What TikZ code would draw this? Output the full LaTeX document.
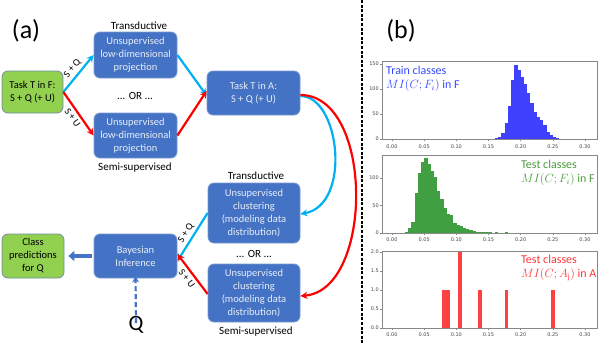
\documentclass[tikz,border=0pt]{standalone}
\usepackage{fontspec}
\setmainfont{Carlito}
\newfontfamily\dejavu{DejaVu Sans}
\usetikzlibrary{arrows.meta}
\definecolor{boxblue}{HTML}{4472C4}
\definecolor{boxedge}{HTML}{7A98D2}
\definecolor{boxgreen}{HTML}{92D050}
\definecolor{greenedge}{HTML}{6F8CA8}
\definecolor{boxtext}{HTML}{E8EEF8}
\definecolor{arrcyan}{HTML}{00B0F0}
\definecolor{arrred}{HTML}{FF0000}
\definecolor{histblue}{HTML}{4040FF}
\definecolor{histgreen}{HTML}{409F40}
\definecolor{histred}{HTML}{FF4040}
\definecolor{txtblue}{HTML}{3348FF}
\definecolor{txtgreen}{HTML}{4B9B3B}
\definecolor{txtred}{HTML}{FF3535}
\definecolor{axgray}{HTML}{888888}
\definecolor{ticktext}{HTML}{444444}
\tikzset{
  bbox/.style={rectangle, rounded corners=6pt, fill=boxblue, draw=boxedge, line width=0.8pt,
    text=boxtext, align=center, font=\fontsize{10.5}{13}\selectfont, inner sep=0pt},
  gbox/.style={rectangle, rounded corners=6pt, fill=boxgreen, draw=greenedge, line width=0.8pt,
    text=black, align=center, font=\fontsize{10.5}{13}\selectfont, inner sep=0pt},
  lbl/.style={font=\fontsize{11}{13}\selectfont, text=black, inner sep=0pt},
  alb/.style={font=\fontsize{10}{12}\selectfont, text=black, sloped, inner sep=2.8pt},
  cyarr/.style={draw=arrcyan, line width=2.2pt, -{Stealth[length=7pt,width=7pt]}},
  rdarr/.style={draw=arrred, line width=2.2pt, -{Stealth[length=7pt,width=7pt]}},
  axframe/.style={draw=axgray, line width=0.6pt},
  tick/.style={font=\dejavu\fontsize{5}{6}\selectfont, text=ticktext, inner sep=0pt},
  ptxt/.style={font=\fontsize{12}{14}\selectfont, align=left, inner sep=0pt, anchor=north west},
}
\begin{document}
\begin{tikzpicture}[x=1pt,y=-1pt]
\useasboundingbox (0,0) rectangle (600,343);
% panel labels
\node[font=\fontsize{26}{30}\selectfont, inner sep=0pt] (la) at (26,31) {(a)};
\node[font=\fontsize{26}{30}\selectfont, inner sep=0pt] (lb) at (401,31) {(b)};
% boxes
\node[gbox, minimum width=61pt, minimum height=42pt] (tf) at (32.5,92) {Task T in F:\\S + Q (+ U)};
\node[bbox, minimum width=83pt, minimum height=46pt] (p1) at (135.5,55) {Unsupervised\\low-dimensional\\projection};
\node[bbox, minimum width=83pt, minimum height=45pt] (p2) at (135.5,135.5) {Unsupervised\\low-dimensional\\projection};
\node[lbl] (t1) at (139,26) {Transductive};
\node[lbl] (o1) at (135,96) {... OR ...};
\node[lbl] (s1) at (135,168) {Semi-supervised};
\node[bbox, minimum width=93pt, minimum height=44pt] (ta) at (253.5,93) {Task T in A:\\S + Q (+ U)};
\node[bbox, minimum width=92pt, minimum height=60pt] (c1) at (254,213) {Unsupervised\\clustering\\(modeling data\\distribution)};
\node[bbox, minimum width=92pt, minimum height=58pt] (c2) at (254,293) {Unsupervised\\clustering\\(modeling data\\distribution)};
\node[lbl] (t2) at (256,176) {Transductive};
\node[lbl] (o2) at (254,254) {... OR ...};
\node[lbl] (s2) at (256,332) {Semi-supervised};
\node[bbox, minimum width=83pt, minimum height=44pt] (bi) at (135.5,256) {Bayesian\\Inference};
\node[gbox, minimum width=62pt, minimum height=44pt] (cp) at (33,256) {Class\\predictions\\for Q};
\node[font=\fontsize{22}{24}\selectfont, inner sep=0pt] (q) at (136,325) {Q};
% arrows left part
\draw[cyarr] (tf.east) -- node[alb, above] {S + Q} (p1.west);
\draw[rdarr] (tf.east) -- node[alb, below] {S + U} (p2.west);
\draw[cyarr] (p1.east) -- ([yshift=-2.5pt]ta.west);
\draw[rdarr] (p2.east) -- ([yshift=2pt]ta.west);
\draw[cyarr] ([yshift=-3pt]ta.east) .. controls (340,96) and (352,205) .. ([yshift=-1pt]c1.east);
\draw[rdarr] ([yshift=-2pt]ta.east) .. controls (374,95) and (374,290) .. ([yshift=-3pt]c2.east);
\draw[cyarr] (c1.west) -- node[alb, above] {S + Q} ([yshift=-5pt]bi.east);
\draw[rdarr] ([yshift=-1pt]c2.west) -- node[alb, below] {S + U} ([yshift=2pt]bi.east);
\draw[draw=boxblue, line width=4.5pt, -{Triangle[length=6pt,width=10pt]}] ([xshift=-2pt]bi.west) -- ([xshift=4pt]cp.east);
\draw[draw=boxblue, line width=2.2pt, dash pattern=on 5pt off 3pt, -{Stealth[length=6pt,width=7pt]}] ([yshift=-7pt]q.north) -- ([yshift=2pt]bi.south);
% separator
\coordinate (sepT) at (362,0);
\coordinate (sepB) at (362,343);
\draw[black, line width=1.3pt, dash pattern=on 3pt off 1.6pt] (sepT) -- (sepB);
% ---------- histogram 1 ----------
\foreach \h [count=\i from 0] in {2,5,12,32,66,118,148,138,125,111,92,72,55,45,38,28,15,9,4,2,1,0,1,1,0,1}
  { \fill[histblue] ({392+(0.16+\i*0.005)*643.3},139) rectangle ++(3.35,{-\h*0.5}); }
\draw[axframe] (382,61) rectangle (597,139);
\foreach \v/\t in {0/0,50/50,100/100,150/150}
  { \draw[axgray, line width=0.5pt] (382,{139-\v*0.5}) -- ++(-2,0);
    \node[tick, anchor=east] at (379,{139-\v*0.5}) {\t}; }
\foreach \v/\t in {0/0.00,0.05/0.05,0.1/0.10,0.15/0.15,0.2/0.20,0.25/0.25,0.3/0.30}
  { \draw[axgray, line width=0.5pt] ({392+\v*643.3},139) -- ++(0,2);
    \node[tick] at ({392+\v*643.3},147) {\t}; }
\node[ptxt, text=txtblue] (h1t) at (386,66) {Train classes\\$MI(C;F_i)$ in F};
% ---------- histogram 2 ----------
\foreach \h [count=\i from 0] in {1,9,20,73,109,129,136,125,112,102,76,61,45,35,33,18,15,12,9,8,5,4,2,2,2,1,1,0,1,0,0,2}
  { \fill[histgreen] ({392+(0.02+\i*0.005)*643.3},233) rectangle ++(3.35,{-\h*0.55}); }
\draw[axframe] (382,155) rectangle (597,233);
\foreach \v/\t in {0/0,50/50,100/100}
  { \draw[axgray, line width=0.5pt] (382,{233-\v*0.55}) -- ++(-2,0);
    \node[tick, anchor=east] at (379,{233-\v*0.55}) {\t}; }
\foreach \v/\t in {0/0.00,0.05/0.05,0.1/0.10,0.15/0.15,0.2/0.20,0.25/0.25,0.3/0.30}
  { \draw[axgray, line width=0.5pt] ({392+\v*643.3},233) -- ++(0,2);
    \node[tick] at ({392+\v*643.3},240) {\t}; }
\node[ptxt, text=txtgreen] (h2t) at (521,160) {Test classes\\$MI(C;F_i)$ in F};
% ---------- histogram 3 ----------
\foreach \a/\b/\h in {0.0776/0.0905/1,0.1024/0.1086/2,0.1330/0.1397/1,0.1750/0.1810/1,0.2470/0.2535/1}
  { \fill[histred] ({392+\a*643.3},328) rectangle ({392+\b*643.3},{328-\h*38}); }
\draw[axframe] (382,251) rectangle (597,328);
\foreach \v/\t in {0/0.0,0.5/0.5,1/1.0,1.5/1.5,2/2.0}
  { \draw[axgray, line width=0.5pt] (382,{328-\v*38}) -- ++(-2,0);
    \node[tick, anchor=east] at (379,{328-\v*38}) {\t}; }
\foreach \v/\t in {0/0.00,0.05/0.05,0.1/0.10,0.15/0.15,0.2/0.20,0.25/0.25,0.3/0.30}
  { \draw[axgray, line width=0.5pt] ({392+\v*643.3},328) -- ++(0,2);
    \node[tick] at ({392+\v*643.3},335) {\t}; }
\node[ptxt, text=txtred] (h3t) at (521,255) {Test classes\\$MI(C;A_\mathrm{j})$ in A};
\end{tikzpicture}
\end{document}
